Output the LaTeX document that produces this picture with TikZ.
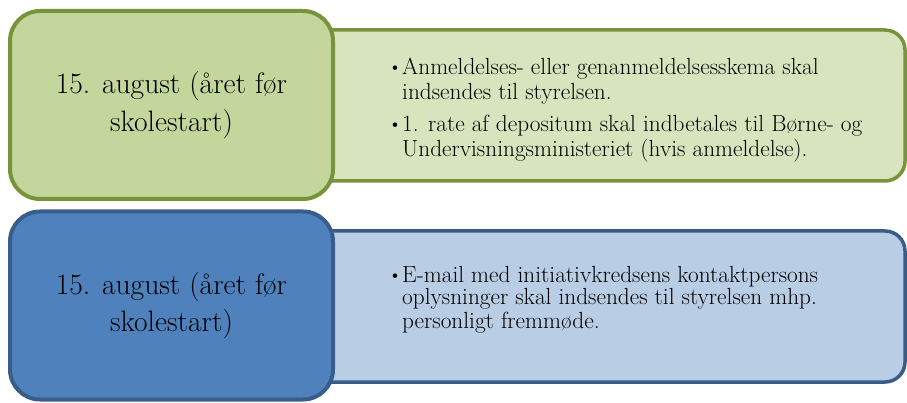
\documentclass[tikz,border=0pt]{standalone}
\usepackage{tikz}
\usetikzlibrary{positioning}
\definecolor{greenline}{HTML}{77933C}
\definecolor{greenfill}{HTML}{C3D69B}
\definecolor{greenlight}{HTML}{D7E4BD}
\definecolor{blueline}{HTML}{385D8A}
\definecolor{bluefill}{HTML}{4F81BD}
\definecolor{bluelight}{HTML}{B9CDE5}

\begin{document}
\begin{tikzpicture}[x=1pt,y=-1pt,
  datebox/.style={draw,line width=4pt,rounded corners=30pt,minimum width=323pt,minimum height=188pt,align=center,inner sep=0pt,font=\fontsize{29.5}{37.5}\selectfont},
  infobox/.style={draw,line width=3.5pt,rounded corners=20pt,minimum width=605pt,minimum height=151pt,inner sep=0pt},
  itemline/.style={anchor=base west,inner sep=0pt,font=\fontsize{23.3}{24}\selectfont},
  bulletmark/.style={anchor=base,inner sep=0pt,font=\fontsize{20}{24}\selectfont}]
\useasboundingbox (0,0) rectangle (907,403);

% to draw the boxes on the right side
\node [infobox,draw=greenline,fill=greenlight] (info1) at (602.5,105.5) {};
\node [infobox,draw=blueline,fill=bluelight] (info2) at (602.5,306.5) {};

% to draw the date boxes
\node [datebox,draw=greenline,fill=greenfill] (date1) at (171.5,105) {15. august (året før\\skolestart)};
\node [datebox,draw=blueline,fill=bluefill] (date2) at (171.5,305.5) {15. august (året før\\skolestart)};

%First row:
\node [bulletmark] (b11) at (395,74) {\textbullet};
\node [itemline] (l11) at (402,75) {Anmeldelses- eller genanmeldelsesskema skal};
\node [itemline] (l12) at (402,99.5) {indsendes til styrelsen.};
\node [bulletmark] (b12) at (395,131) {\textbullet};
\node [itemline] (l13) at (402,132) {1. rate af depositum skal indbetales til Børne- og};
\node [itemline] (l14) at (402,156.5) {Undervisningsministeriet (hvis anmeldelse).};

%Second row:
\node [bulletmark] (b21) at (395,281) {\textbullet};
\node [itemline] (l21) at (402,282) {E-mail med initiativkredsens kontaktpersons};
\node [itemline] (l22) at (402,305) {oplysninger skal indsendes til styrelsen mhp.};
\node [itemline] (l23) at (402,328) {personligt fremmøde.};
\end{tikzpicture}
\end{document}
